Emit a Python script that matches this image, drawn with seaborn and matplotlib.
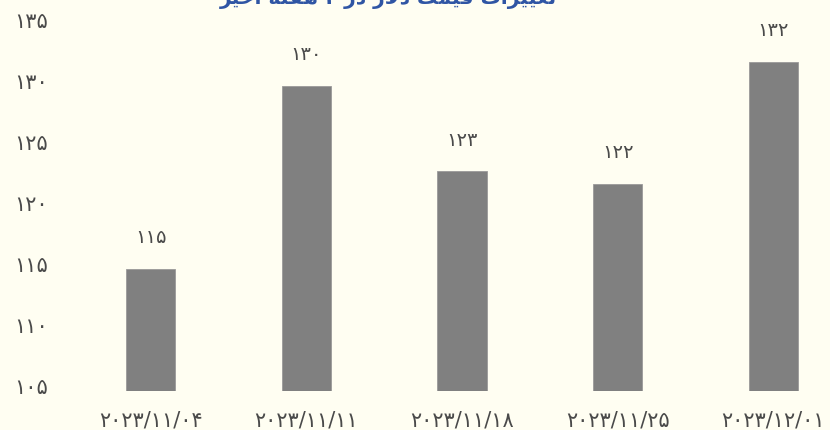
import pandas as pd
import matplotlib.pyplot as plt
import matplotlib.transforms as mtrans
import seaborn as sns

# datos
fechas = ['۲۰۲۳/۱۱/۰۴', '۲۰۲۳/۱۱/۱۱', '۲۰۲۳/۱۱/۱۸', '۲۰۲۳/۱۱/۲۵', '۲۰۲۳/۱۲/۰۱']
valores = [115, 130, 123, 122, 132]
etiquetas = ['۱۱۵', '۱۳۰', '۱۲۳', '۱۲۲', '۱۳۲']
yticks = [105, 110, 115, 120, 125, 130, 135]
yticklabels = ['۱۰۵', '۱۱۰', '۱۱۵', '۱۲۰', '۱۲۵', '۱۳۰', '۱۳۵']
# titulo ya en formas de presentacion, orden visual
titulo = ('\uFEAE\uFEF4\uFEA7\uFE8D \uFEEA\uFE98\uFED4\uFEEB \u06F4 \uFEAD\uFEA9 '
          '\uFEAD\uFEFB\uFEA9 \uFE96\uFEE4\uFEF4\uFED7 '
          '\uFE95\uFE8D\uFEAE\uFEF4\uFEF4\uFED0\uFE97')

df = pd.DataFrame({'fecha': fechas, 'valor': valores})

fondo = '#fffef2'
txt = '#4a4a4a'
sns.set_style('white')
plt.rcParams['font.family'] = ['DejaVu Sans']

fig = plt.figure(figsize=(8.3, 4.3), dpi=100, facecolor=fondo)
ax = fig.add_axes([73 / 830, 39 / 430, 757 / 830, 366 / 430])
ax.set_facecolor(fondo)

sns.barplot(data=df, x='fecha', y='valor', color='#808080', width=0.315,
            saturation=1, edgecolor='#9a9a9a', linewidth=0.6, ax=ax)

for i, (v, t) in enumerate(zip(valores, etiquetas)):
    ax.annotate(t, (i, v), xytext=(0, 22.5), textcoords='offset points',
                ha='center', va='center', fontsize=14, color=txt)

ax.set_ylim(105, 135)
ax.set_xlim(-0.5, -0.5 + 757 / 155.6)
ax.set_yticks(yticks)
ax.set_yticklabels(yticklabels)
ax.tick_params(axis='y', length=0, pad=18, labelsize=15, labelcolor=txt)
ax.tick_params(axis='x', length=0, pad=14, labelsize=15, labelcolor=txt)
ax.set_xlabel('')
ax.set_ylabel('')
sns.despine(ax=ax, left=True, bottom=True)

# las etiquetas del eje y van un poco mas arriba
desp = mtrans.ScaledTranslation(0, 5 / 100, fig.dpi_scale_trans)
for lab in ax.get_yticklabels():
    lab.set_transform(lab.get_transform() + desp)

fig.text(388 / 830, 1 - 4 / 430, titulo, ha='center', va='baseline',
         fontsize=14.5, fontweight='bold', color='#2f55a4')

fig.savefig('out.png', dpi=100, facecolor=fondo)
